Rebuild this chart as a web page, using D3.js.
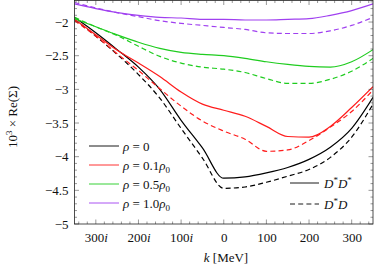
<!DOCTYPE html>
<html>
<head>
<meta charset="utf-8">
<script src="https://cdn.jsdelivr.net/npm/d3@7"></script>
<style>
  body { margin: 0; background: #fff; }
  text { font-family: "Liberation Serif", "DejaVu Serif", serif; fill: #111; }
</style>
</head>
<body>
<svg width="374" height="272"></svg>
<script>
// k grid (negative = imaginary momentum)
var kValues = [-350, -300, -250, -200, -150, -100, -50, 0, 50, 100, 150, 200, 250, 300, 350];

// 10^3 x Re(Sigma)
var rho00_DsDs = [-1.93, -2.16, -2.41, -2.67, -3.00, -3.46, -3.87, -4.32, -4.30, -4.24, -4.16, -4.04, -3.86, -3.58, -3.12];
var rho00_DsD  = [-1.96, -2.21, -2.48, -2.78, -3.13, -3.58, -4.02, -4.47, -4.45, -4.38, -4.29, -4.19, -4.01, -3.71, -3.22];
var rho01_DsDs = [-1.96, -2.19, -2.42, -2.61, -2.81, -3.04, -3.22, -3.31, -3.40, -3.55, -3.70, -3.71, -3.55, -3.27, -2.96];
var rho01_DsD  = [-1.98, -2.21, -2.47, -2.72, -2.99, -3.25, -3.47, -3.62, -3.74, -3.92, -3.90, -3.76, -3.56, -3.33, -3.01];
var rho05_DsDs = [-1.95, -2.07, -2.19, -2.30, -2.39, -2.45, -2.48, -2.50, -2.54, -2.59, -2.63, -2.66, -2.67, -2.59, -2.41];
var rho05_DsD  = [-1.93, -2.07, -2.20, -2.36, -2.51, -2.61, -2.67, -2.70, -2.75, -2.84, -2.91, -2.91, -2.85, -2.73, -2.54];
var rho10_DsDs = [-1.73, -1.80, -1.86, -1.90, -1.93, -1.94, -1.96, -1.96, -1.97, -1.97, -1.96, -1.95, -1.90, -1.83, -1.73];
var rho10_DsD  = [-1.71, -1.79, -1.86, -1.92, -1.98, -2.02, -2.05, -2.08, -2.11, -2.16, -2.17, -2.17, -2.13, -2.05, -1.93];

var densityLabels = ["0", "0.1", "0.5", "1.0"];
var densityColors = ["#000000", "#ff1c1c", "#1fcc1f", "#a040f0"];
var xTickValues = [-300, -200, -100, 0, 100, 200, 300];
var yTickValues = [-5, -4.5, -4, -3.5, -3, -2.5, -2];

var series = [
  { values: rho00_DsDs, color: 0, dashed: false },
  { values: rho00_DsD,  color: 0, dashed: true },
  { values: rho01_DsDs, color: 1, dashed: false },
  { values: rho01_DsD,  color: 1, dashed: true },
  { values: rho05_DsDs, color: 2, dashed: false },
  { values: rho05_DsD,  color: 2, dashed: true },
  { values: rho10_DsDs, color: 3, dashed: false },
  { values: rho10_DsD,  color: 3, dashed: true }
];

var svg = d3.select("svg");
var box = { left: 74.5, right: 373, top: 0.5, bottom: 224 };

var x = d3.scaleLinear().domain([-350, 350]).range([box.left, box.right]);
var y = d3.scaleLinear().domain([-5, -1.68]).range([box.bottom, box.top]);

svg.append("clipPath").attr("id", "plotclip")
  .append("rect")
  .attr("x", box.left).attr("y", box.top)
  .attr("width", box.right - box.left).attr("height", box.bottom - box.top);

// curves
var line = d3.line()
  .x(function (d, i) { return x(kValues[i]); })
  .y(function (d) { return y(d); })
  .curve(d3.curveMonotoneX);

svg.append("g")
  .attr("clip-path", "url(#plotclip)")
  .selectAll("path")
  .data(series)
  .enter().append("path")
  .attr("d", function (d) { return line(d.values); })
  .attr("fill", "none")
  .attr("stroke", function (d) { return densityColors[d.color]; })
  .attr("stroke-width", 1.2)
  .attr("stroke-dasharray", function (d) { return d.dashed ? "5,3.2" : null; });

// ticks on all four sides, pgfplots style (inward)
var ticks = svg.append("g").attr("stroke", "#333").attr("stroke-width", 0.5);
var xMinor = d3.range(-340, 341, 20).filter(function (v) { return v % 100 !== 0; });
var yMinor = d3.range(-49, -16, 1).map(function (v) { return v / 10; })
  .filter(function (v) { return Math.abs(v * 2 - Math.round(v * 2)) > 1e-6; });

function xTick(v, len) {
  ticks.append("line").attr("x1", x(v)).attr("x2", x(v)).attr("y1", box.bottom).attr("y2", box.bottom - len);
  ticks.append("line").attr("x1", x(v)).attr("x2", x(v)).attr("y1", box.top).attr("y2", box.top + len);
}
function yTick(v, len) {
  ticks.append("line").attr("y1", y(v)).attr("y2", y(v)).attr("x1", box.left).attr("x2", box.left + len);
  ticks.append("line").attr("y1", y(v)).attr("y2", y(v)).attr("x1", box.right).attr("x2", box.right - len);
}
xTickValues.forEach(function (v) { xTick(v, 4.5); });
xMinor.forEach(function (v) { xTick(v, 2.5); });
yTickValues.forEach(function (v) { yTick(v, 4.5); });
yMinor.forEach(function (v) { yTick(v, 2.5); });

// frame
svg.append("rect")
  .attr("x", box.left).attr("y", box.top)
  .attr("width", box.right - box.left).attr("height", box.bottom - box.top)
  .attr("fill", "none").attr("stroke", "#222").attr("stroke-width", 0.8);

// tick labels
var xAxis = d3.axisBottom(x).tickValues(xTickValues).tickSize(0).tickPadding(9)
  .tickFormat(function (v) { return v < 0 ? String(-v) : String(v); });
var gx = svg.append("g").attr("transform", "translate(0," + box.bottom + ")").call(xAxis);
gx.select(".domain").remove();
gx.selectAll("text")
  .style("font-size", "13px")
  .style("font-family", "'Liberation Serif', serif")
  .attr("fill", "#111")
  .each(function (v) {
    if (v < 0) {
      d3.select(this).append("tspan").attr("font-style", "italic").text("i");
    }
  });

var yAxis = d3.axisLeft(y).tickValues(yTickValues).tickSize(0).tickPadding(6)
  .tickFormat(function (v) { return String(v).replace("-", "\u2212"); });
var gy = svg.append("g").attr("transform", "translate(" + box.left + ",0)").call(yAxis);
gy.select(".domain").remove();
gy.selectAll("text")
  .style("font-size", "13px")
  .style("font-family", "'Liberation Serif', serif")
  .attr("fill", "#111");

// axis titles
var xt = svg.append("text").attr("x", 226).attr("y", 262).attr("text-anchor", "middle")
  .style("font-size", "13px");
xt.append("tspan").attr("font-style", "italic").text("k");
xt.append("tspan").text(" [MeV]");

var yt = svg.append("text")
  .attr("transform", "translate(17,117) rotate(-90)")
  .attr("text-anchor", "middle")
  .style("font-size", "13px");
yt.append("tspan").text("10");
yt.append("tspan").attr("dy", -5).style("font-size", "9px").text("3");
yt.append("tspan").attr("dy", 5).text(" \u00d7 Re(\u03a3)");

// density legend
var leg = svg.append("g");
densityLabels.forEach(function (lab, i) {
  var ly = 146 + i * 19;
  leg.append("line").attr("x1", 89).attr("x2", 119).attr("y1", ly).attr("y2", ly)
    .attr("stroke", densityColors[i]).attr("stroke-width", 0.9);
  var t = leg.append("text").attr("x", 123).attr("y", ly + 4.5).style("font-size", "13px");
  t.append("tspan").attr("font-style", "italic").text("\u03c1");
  t.append("tspan").text(" = " + lab);
  if (lab !== "0") {
    t.append("tspan").attr("font-style", "italic").text("\u03c1");
    t.append("tspan").attr("dy", 3).style("font-size", "9px").text("0");
  }
});

// channel legend
var channels = [{ dashed: false }, { dashed: true }];
channels.forEach(function (c, i) {
  var ly = 183 + i * 21;
  leg.append("line").attr("x1", 290).attr("x2", 319).attr("y1", ly).attr("y2", ly)
    .attr("stroke", "#000").attr("stroke-width", 0.9)
    .attr("stroke-dasharray", c.dashed ? "5,3.2" : null);
  var t = leg.append("text").attr("x", 324).attr("y", ly + 4.5).style("font-size", "13px");
  t.append("tspan").attr("font-style", "italic").text("D");
  t.append("tspan").attr("dy", -5).style("font-size", "9px").text("*");
  t.append("tspan").attr("dy", 5).attr("font-style", "italic").text("D");
  if (!c.dashed) {
    t.append("tspan").attr("dy", -5).style("font-size", "9px").text("*");
  }
});
</script>
</body>
</html>
